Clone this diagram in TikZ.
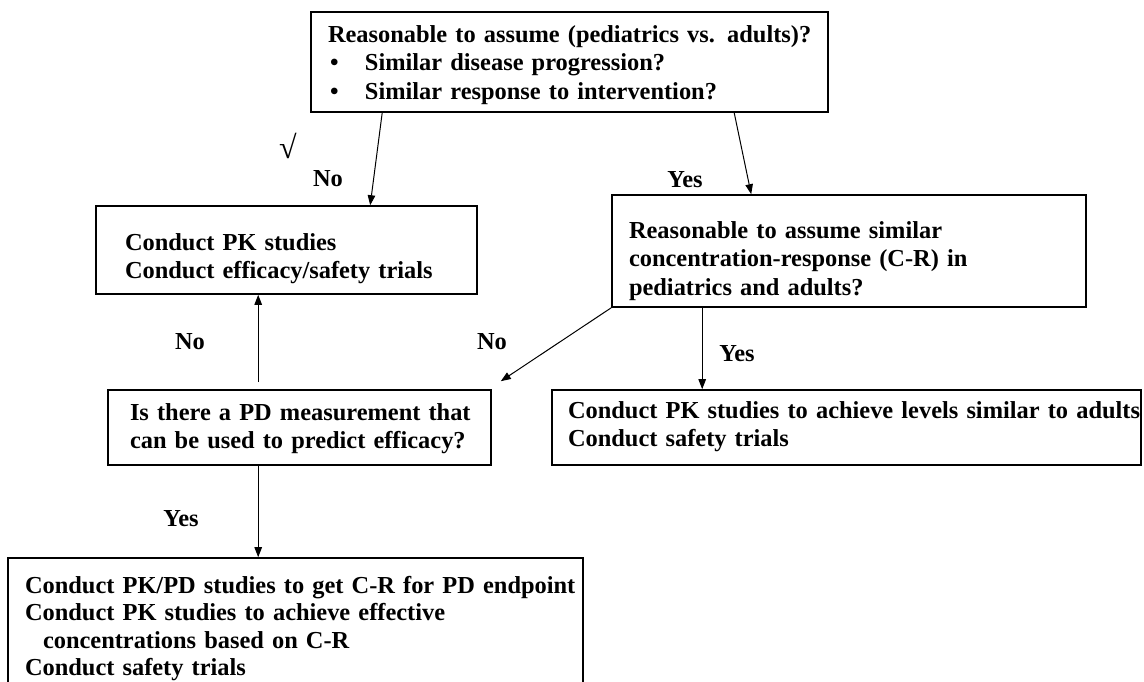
\documentclass[tikz,border=0pt]{standalone}
\usepackage{fontspec}
\setmainfont{Liberation Serif}
\usetikzlibrary{arrows.meta,calc}
\begin{document}
\begin{tikzpicture}[x=1pt,y=-1pt,
  box/.style={draw, line width=1.6pt, rectangle, inner sep=0pt, align=left,
    font=\fontsize{24.4}{28.5}\selectfont\bfseries, text height=0pt},
  lbl/.style={font=\fontsize{24.4}{28.5}\selectfont\bfseries, inner sep=0pt},
  arr/.style={line width=1pt, -{Triangle[length=10pt,width=7.5pt]}}]
\useasboundingbox (0,0) rectangle (1144,681);
\clip (0,0) rectangle (1144,681);
\fill[white] (0,0) rectangle (1144,681);

\node[box, minimum width=517pt, minimum height=100pt, text width=483pt, text depth=40pt] (top) at (569.5,62)
 {\mbox{Reasonable to assume (pediatrics vs. adults)?}\\
  \mbox{\hspace*{2pt}\makebox[35pt][l]{•}Similar disease progression?}\\
  \mbox{\hspace*{2pt}\makebox[35pt][l]{•}Similar response to intervention?}};

\node[box, minimum width=381pt, minimum height=88pt, text width=323pt, text depth=0pt] (lb) at (286.5,250)
 {\mbox{Conduct PK studies}\\\mbox{Conduct efficacy/safety trials}};

\node[box, minimum width=474pt, minimum height=112pt, text width=440pt, text depth=26pt] (rb) at (849,251)
 {\mbox{Reasonable to assume similar}\\\mbox{concentration-response (C-R) in}\\\mbox{pediatrics and adults?}};

\node[box, minimum width=383pt, minimum height=75pt, text width=339pt, text depth=15pt] (pd) at (299.5,427.5)
 {\mbox{Is there a PD measurement that}\\\mbox{can be used to predict efficacy?}};

\node[box, minimum width=589pt, minimum height=75pt, text width=557pt, text depth=19pt] (rb2) at (846.5,427.5)
 {\mbox{Conduct PK studies to achieve levels similar to adults}\\\mbox{Conduct safety trials}};

\node[box, minimum width=575pt, minimum height=142pt, text width=541pt, text depth=72pt,
  font=\fontsize{24.4}{27.5}\selectfont\bfseries] (bot) at (295.5,629)
 {\mbox{Conduct PK/PD studies to get C-R for PD endpoint}\\
  \mbox{Conduct PK studies to achieve effective}\\
  \mbox{\hspace*{18pt}concentrations based on C-R}\\
  \mbox{Conduct safety trials}};

\node[lbl, font=\fontsize{32}{32}\selectfont] (chk) at (288,146) {√};
\node[lbl] (no1) at (328,179) {No};
\node[lbl] (yes1) at (685,180) {Yes};
\node[lbl] (no2) at (190,342) {No};
\node[lbl] (no3) at (492,342) {No};
\node[lbl] (yes2) at (737,354) {Yes};
\node[lbl] (yes3) at (181,519) {Yes};

\coordinate (pdend) at ($(pd.north east)+(9,-8)$);
\draw[arr] ($(top.south west)+(72,0)$) -- ($(lb.north west)+(275,0)$);
\draw[arr] ($(top.south west)+(424,0)$) -- ($(rb.north west)+(140,0)$);
\draw[arr] ($(pd.north west)+(151,-7)$) -- ($(lb.south west)+(163,0)$);
\draw[arr] (rb.south west) -- (pdend);
\draw[arr] ($(rb.south west)+(91,0)$) -- ($(rb2.north west)+(151,0)$);
\draw[arr] ($(pd.south west)+(151,0)$) -- ($(bot.north west)+(251,0)$);
\end{tikzpicture}
\end{document}
